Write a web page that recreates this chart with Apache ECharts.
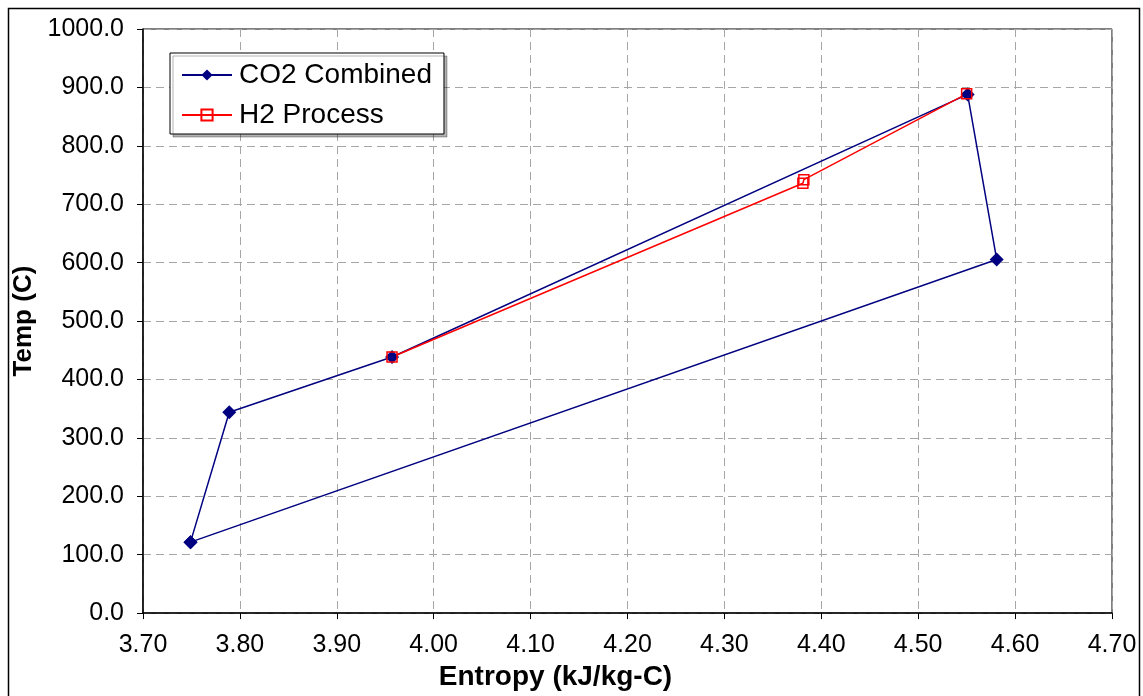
<!DOCTYPE html>
<html>
<head>
<meta charset="utf-8">
<script src="https://cdn.jsdelivr.net/npm/echarts@6/dist/echarts.min.js"></script>
<style>html,body{margin:0;padding:0;background:#fff}#c{width:1143px;height:696px}</style>
</head>
<body>
<div id="c"></div>
<script>
const co2Entropy = [3.749, 3.789, 3.957, 4.551, 4.581, 3.749];
const co2Temp    = [121.5, 344.0, 438.5, 888.0, 605.5, 121.5];
const h2Entropy  = [3.957, 4.381, 4.382, 4.550];
const h2Temp     = [438.5, 736.0, 742.0, 889.0];
const seriesNames = ['CO2 Combined', 'H2 Process'];
const xTitle = 'Entropy (kJ/kg-C)';
const yTitle = 'Temp (C)';

const FONT = "'Liberation Sans', Arial, sans-serif";
const chart = echarts.init(document.getElementById('c'), null, {renderer: 'canvas'});
const zip = (a, b) => a.map((v, i) => [v, b[i]]);

chart.setOption({
  animation: false,
  backgroundColor: '#fff',
  textStyle: {fontFamily: FONT},
  grid: {left: 143, right: 31, top: 29, bottom: 82, show: true, borderColor: '#000', borderWidth: 1, backgroundColor: '#fff'},
  xAxis: {
    type: 'value', min: 3.7, max: 4.7, interval: 0.1,
    name: xTitle, nameLocation: 'middle', nameGap: 49,
    nameTextStyle: {fontFamily: FONT, fontSize: 28, fontWeight: 'bold', color: '#000', padding: [0, 144, 0, 0]},
    axisLine: {show: true, onZero: false, lineStyle: {color: '#000', width: 1.5}},
    axisTick: {show: true, length: 6, lineStyle: {color: '#000'}},
    axisLabel: {fontFamily: FONT, fontSize: 25, color: '#000', margin: 20, formatter: v => v.toFixed(2)},
    splitLine: {show: true, lineStyle: {color: '#a6a6a6', type: [8, 5], width: 1}}
  },
  yAxis: {
    type: 'value', min: 0, max: 1000, interval: 100,
    name: yTitle, nameLocation: 'middle', nameGap: 95, nameRotate: 90,
    nameTextStyle: {fontFamily: FONT, fontSize: 26, fontWeight: 'bold', color: '#000'},
    axisLine: {show: true, onZero: false, lineStyle: {color: '#000', width: 1.5}},
    axisTick: {show: true, length: 6, lineStyle: {color: '#000'}},
    axisLabel: {fontFamily: FONT, fontSize: 25, color: '#000', margin: 19, formatter: v => v.toFixed(1)},
    splitLine: {show: true, lineStyle: {color: '#a6a6a6', type: [8, 5], width: 1}}
  },
  legend: {
    orient: 'vertical', left: 170, top: 53,
    padding: [8, 12, 5, 11], itemGap: 12, itemWidth: 50, itemHeight: 14,
    borderColor: '#000', borderWidth: 1, backgroundColor: '#fff',
    shadowColor: 'rgba(0,0,0,0.3)', shadowOffsetX: 3, shadowOffsetY: 3, shadowBlur: 0,
    textStyle: {fontFamily: FONT, fontSize: 28, color: '#000', padding: [0, 0, 0, 2]},
    data: seriesNames
  },
  series: [
    {
      name: seriesNames[0], type: 'line', data: zip(co2Entropy, co2Temp),
      symbol: 'diamond', symbolSize: 14, showAllSymbol: true,
      lineStyle: {color: '#000080', width: 1.5},
      itemStyle: {color: '#000080'}
    },
    {
      name: seriesNames[1], type: 'line', data: zip(h2Entropy, h2Temp),
      symbol: 'rect', symbolSize: 10, showAllSymbol: true,
      lineStyle: {color: '#ff0000', width: 1.5},
      itemStyle: {color: 'rgba(255,255,255,0)', borderColor: '#ff0000', borderWidth: 1.5}
    }
  ],
  graphic: [{
    type: 'rect', silent: true, z: 100,
    shape: {x: 8.5, y: 8.5, width: 1131, height: 700},
    style: {fill: 'none', stroke: '#000', lineWidth: 1.5}
  }]
});
</script>
</body>
</html>
